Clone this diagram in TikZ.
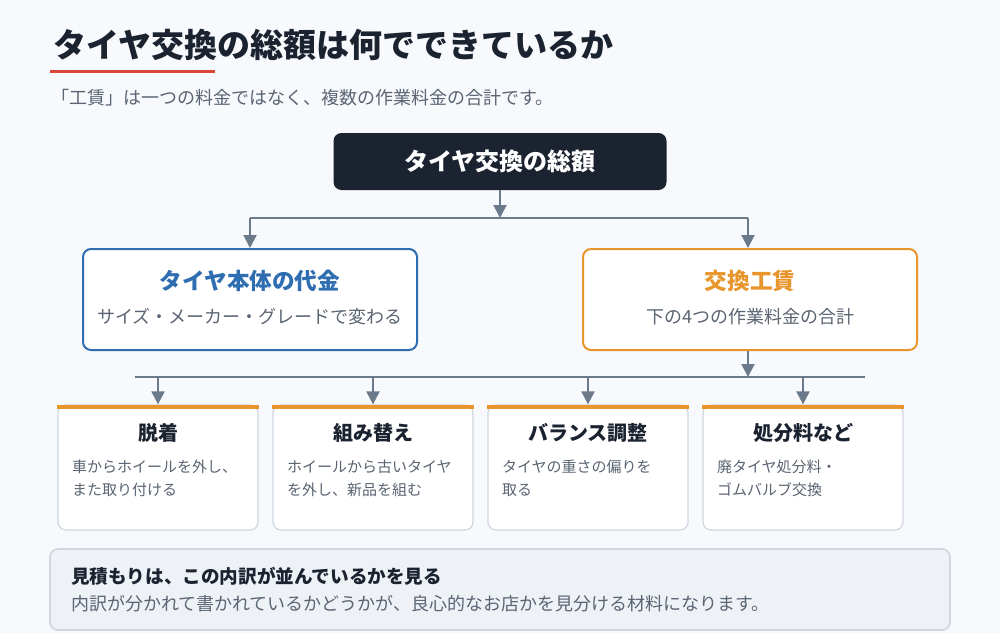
\documentclass[tikz,border=0pt]{standalone}
\usepackage{fontspec}
\setmainfont{Noto Sans CJK JP}
\usetikzlibrary{positioning,arrows.meta}
\definecolor{bgc}{HTML}{F7F9FC}
\definecolor{darkc}{HTML}{1C2330}
\definecolor{linec}{HTML}{6B7A8A}
\definecolor{bluec}{HTML}{2E6DB0}
\definecolor{orangec}{HTML}{E8952B}
\definecolor{grayt}{HTML}{5A6472}
\definecolor{cardb}{HTML}{CFD6DF}
\definecolor{notec}{HTML}{EEF2F7}
\definecolor{redc}{HTML}{D9473A}
\tikzset{
  conn/.style={draw=linec, line width=1pt},
  arr/.style={conn, -{Triangle[length=6.5pt,width=6.5pt]}},
  bigbox/.style={draw, line width=1pt, rounded corners=4pt, fill=white,
    minimum width=167pt, minimum height=50.5pt},
  card/.style={draw=cardb, line width=0.6pt, rounded corners=4pt, fill=white,
    minimum width=100pt, minimum height=62.5pt},
  cardtitle/.style={font=\bfseries\fontsize{10pt}{12pt}\selectfont, text=darkc},
  cardtext/.style={font=\fontsize{7.5pt}{11.5pt}\selectfont, text=grayt, align=left, anchor=north west},
}
\begin{document}
\begin{tikzpicture}[x=0.5pt,y=-0.5pt]
\fill[bgc] (0,0) rectangle (1000,633);
\useasboundingbox (0,0) rectangle (1000,633);

% Title and subtitle
\node[anchor=west, font=\bfseries\fontsize{16.5pt}{19pt}\selectfont, text=darkc] (title) at (46,45) {タイヤ交換の総額は何でできているか};
\draw[redc, line width=1.5pt] (50,71) -- (215,71);
\node[anchor=west, font=\fontsize{9pt}{11pt}\selectfont, text=grayt] (sub) at (44,98) {「工賃」は一つの料金ではなく、複数の作業料金の合計です。};

% Top box
\node[fill=darkc, rounded corners=4pt, minimum width=166.5pt, minimum height=28.5pt,
  text=white, font=\bfseries\fontsize{12pt}{14pt}\selectfont] (total) at (500,161.5) {タイヤ交換の総額};

% Two main boxes
\node[bigbox, draw=bluec] (tire) at (250,299.5) {};
\node[font=\bfseries\fontsize{11.3pt}{13pt}\selectfont, text=bluec] (tiret) at (250,281) {タイヤ本体の代金};
\node[font=\fontsize{9pt}{11pt}\selectfont, text=grayt] (tires) at (250,317) {サイズ・メーカー・グレードで変わる};
\node[bigbox, draw=orangec] (labor) at (750,299.5) {};
\node[font=\bfseries\fontsize{11.3pt}{13pt}\selectfont, text=orangec] (labort) at (750,281) {交換工賃};
\node[font=\fontsize{9pt}{11pt}\selectfont, text=grayt] (labors) at (750,317) {下の4つの作業料金の合計};

% Connectors from the top
\coordinate (j1) at (500,218);
\coordinate (jl) at (250,218);
\coordinate (jr) at (748,218);
\draw[arr] (total) -- (j1);
\draw[conn] (jl) -- (jr);
\draw[arr] (jl) -- (jl |- tire.north);
\draw[arr] (jr) -- (jr |- labor.north);

% Cards
\foreach \i/\x/\ttl/\txt in {
  1/158/脱着/{車からホイールを外し、\\また取り付ける},
  2/373/組み替え/{ホイールから古いタイヤ\\を外し、新品を組む},
  3/588/バランス調整/{タイヤの重さの偏りを\\取る},
  4/803/処分料など/{廃タイヤ処分料・\\ゴムバルブ交換}} {
  \node[card] (c\i) at (\x,467.5) {};
  \fill[orangec] ([yshift=-0.3pt]c\i.north west) rectangle ([yshift=-2.3pt]c\i.north east);
  \node[cardtitle] (c\i t) at (\x,433) {\ttl};
  \node[cardtext] (c\i x) at (\x-93,453) {\txt};
}

% Bus to the cards
\coordinate (bus) at (748,377);
\coordinate (busl) at (135,377);
\coordinate (busr) at (865,377);
\draw[arr] (labor.south -| bus) -- (bus);
\draw[conn] (busl) -- (busr);
\foreach \i in {1,...,4}
  \draw[arr] (c\i.north |- bus) -- (c\i.north);

% Note
\node[draw=cardb, fill=notec, line width=0.8pt, rounded corners=4pt,
  minimum width=450pt, minimum height=40.5pt] (note) at (500,589.5) {};
\node[anchor=west, font=\bfseries\fontsize{9.3pt}{11pt}\selectfont, text=darkc] (notet) at (64,576) {見積もりは、この内訳が並んでいるかを見る};
\node[anchor=west, font=\fontsize{9pt}{11pt}\selectfont, text=grayt] (notex) at (64,604) {内訳が分かれて書かれているかどうかが、良心的なお店かを見分ける材料になります。};
\end{tikzpicture}
\end{document}
